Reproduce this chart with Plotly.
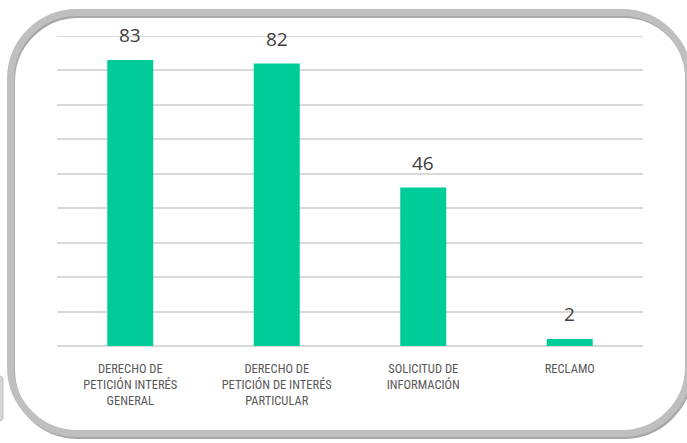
import plotly.graph_objects as go

categories = [
    "DERECHO DE<br>PETICIÓN INTERÉS<br>GENERAL",
    "DERECHO DE<br>PETICIÓN DE INTERÉS<br>PARTICULAR",
    "SOLICITUD DE<br>INFORMACIÓN",
    "RECLAMO",
]
values = [83, 82, 46, 2]

W, H = 687, 443
PX0, PX1, PY0, PY1 = 57, 643, 36, 346  # plot area in pixels
YMAX = 90


def px(x):
    return (x - PX0) / (PX1 - PX0)


def py(y):
    return (PY1 - y) / (PY1 - PY0)


def rounded_path(l, t, r, b, rad):
    k = 0.5523 * rad
    pts = []
    pts.append(f"M {px(l + rad)},{py(t)}")
    pts.append(f"L {px(r - rad)},{py(t)}")
    pts.append(f"C {px(r - rad + k)},{py(t)} {px(r)},{py(t + rad - k)} {px(r)},{py(t + rad)}")
    pts.append(f"L {px(r)},{py(b - rad)}")
    pts.append(f"C {px(r)},{py(b - rad + k)} {px(r - rad + k)},{py(b)} {px(r - rad)},{py(b)}")
    pts.append(f"L {px(l + rad)},{py(b)}")
    pts.append(f"C {px(l + rad - k)},{py(b)} {px(l)},{py(b - rad + k)} {px(l)},{py(b - rad)}")
    pts.append(f"L {px(l)},{py(t + rad)}")
    pts.append(f"C {px(l)},{py(t + rad - k)} {px(l + rad - k)},{py(t)} {px(l + rad)},{py(t)}")
    pts.append("Z")
    return " ".join(pts)


fig = go.Figure()
fig.add_trace(go.Bar(
    x=categories,
    y=values,
    marker=dict(color="#00CC99", line=dict(width=0)),
    width=0.314,
    hoverinfo="skip",
))

annotations = []
for c, v in zip(categories, values):
    annotations.append(dict(
        x=c, y=v, xref="x", yref="y", text=str(v), showarrow=False,
        yanchor="middle", yshift=25,
        font=dict(family="Open Sans, sans-serif", size=19, color="#404040"),
    ))

shapes = [
    # small partial shape at left edge
    dict(type="path", xref="paper", yref="paper", layer="below",
         path=rounded_path(-10, 376, 3, 421, 3),
         fillcolor="#d6d6d6", line=dict(color="#bdbdbd", width=1)),
    # shadow
    dict(type="path", xref="paper", yref="paper", layer="below",
         path=rounded_path(12, 15, 690, 436, 66.5),
         line=dict(color="#a8a8a8", width=6)),
    # main border
    dict(type="path", xref="paper", yref="paper", layer="below",
         path=rounded_path(10.5, 12.5, 688.5, 433.5, 66.5),
         line=dict(color="#bfbfbf", width=7)),
    # top gridline
    dict(type="line", xref="paper", yref="y", x0=0, x1=1, y0=YMAX, y1=YMAX,
         layer="below", line=dict(color="#d9d9d9", width=2)),
]

fig.update_layout(
    width=W, height=H,
    margin=dict(l=PX0, r=W - PX1, t=PY0, b=H - PY1, pad=0),
    paper_bgcolor="white",
    plot_bgcolor="white",
    showlegend=False,
    annotations=annotations,
    shapes=shapes,
    xaxis=dict(
        showgrid=False, showline=False, zeroline=False, ticks="",
        tickfont=dict(family="Liberation Sans Narrow, Roboto Condensed, DejaVu Sans Condensed, sans-serif",
                      size=12.5, color="#595959"),
        tickangle=0,
        ticklabelstandoff=13,
    ),
    yaxis=dict(
        range=[0, YMAX], dtick=10, showticklabels=False,
        showgrid=True, gridcolor="#d9d9d9", gridwidth=2,
        zeroline=True, zerolinecolor="#d9d9d9", zerolinewidth=2,
        showline=False, ticks="",
    ),
)

fig.write_html("out.html", config={"displayModeBar": False},
               post_script="document.body.style.margin='0px';document.body.style.overflow='hidden';")
